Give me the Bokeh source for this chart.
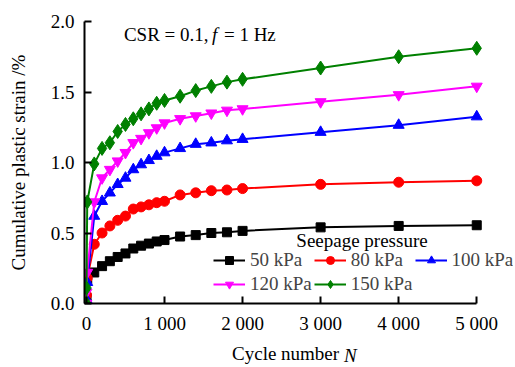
from bokeh.plotting import figure
from bokeh.models import Range1d, FixedTicker, Legend, LegendItem, Label
from bokeh.embed import file_html
from bokeh.resources import INLINE

# ---- data ----
cycles = [0, 1, 10, 100, 200, 300, 400, 500, 600, 700, 800, 900, 1000,
          1200, 1400, 1600, 1800, 2000, 3000, 4000, 5000]
s50 = [0, 0.04, 0.17, 0.22, 0.265, 0.30, 0.33, 0.355, 0.39, 0.41, 0.425, 0.44, 0.45,
       0.475, 0.485, 0.50, 0.505, 0.515, 0.54, 0.55, 0.555]
s80 = [0, 0.06, 0.18, 0.42, 0.50, 0.55, 0.59, 0.62, 0.67, 0.685, 0.70, 0.715, 0.725,
       0.77, 0.785, 0.80, 0.805, 0.815, 0.845, 0.86, 0.87]
s100 = [0, 0.03, 0.15, 0.62, 0.725, 0.785, 0.845, 0.89, 0.95, 0.985, 1.015, 1.045, 1.07,
        1.10, 1.13, 1.14, 1.155, 1.165, 1.215, 1.265, 1.325]
s120 = [0, 0.08, 0.22, 0.72, 0.89, 0.95, 1.01, 1.07, 1.14, 1.17, 1.21, 1.245, 1.28,
        1.31, 1.33, 1.35, 1.37, 1.38, 1.43, 1.48, 1.54]
s150 = [0, 0.11, 0.72, 0.99, 1.10, 1.14, 1.22, 1.27, 1.31, 1.345, 1.38, 1.42, 1.44,
        1.47, 1.51, 1.54, 1.57, 1.59, 1.67, 1.75, 1.81]
series_labels = ["50 kPa", "80 kPa", "100 kPa", "120 kPa", "150 kPa"]
x_ticks = [0, 1000, 2000, 3000, 4000, 5000]
x_tick_labels = ["0", "1 000", "2 000", "3 000", "4 000", "5 000"]
y_ticks = [0.0, 0.5, 1.0, 1.5, 2.0]
y_tick_labels = ["0.0", "0.5", "1.0", "1.5", "2.0"]

FONT = "Liberation Serif"
FS = "19px"

p = figure(width=515, height=367, output_backend="svg", toolbar_location=None,
           x_range=Range1d(-25, 5471), y_range=Range1d(0, 2.0),
           min_border_left=84, min_border_right=2, min_border_top=20,
           min_border_bottom=64)
p.outline_line_color = None
p.xgrid.visible = False
p.ygrid.visible = False
p.background_fill_color = "white"
p.border_fill_color = "white"

for ax in (p.xaxis[0], p.yaxis[0]):
    ax.axis_line_width = 2
    ax.axis_line_color = "black"
    ax.major_tick_line_width = 2
    ax.major_tick_in = 7
    ax.major_tick_out = 0
    ax.minor_tick_line_color = None
    ax.major_label_text_font = FONT
    ax.major_label_text_font_size = FS
    ax.major_label_text_color = "black"
    ax.axis_label_text_font = FONT
    ax.axis_label_text_font_size = FS
    ax.axis_label_text_font_style = "normal"
    ax.axis_label_text_color = "black"

p.xaxis.bounds = (-25, 5000)
p.xaxis.ticker = FixedTicker(ticks=x_ticks)
p.xaxis.major_label_overrides = {t: l for t, l in zip(x_ticks, x_tick_labels)}
p.xaxis.major_label_standoff = 9
p.yaxis.ticker = FixedTicker(ticks=y_ticks)
p.yaxis.major_label_overrides = {t: l for t, l in zip(y_ticks, y_tick_labels)}
p.yaxis.major_label_standoff = 10
p.yaxis.axis_label = "Cumulative plastic strain /%"
p.yaxis.axis_label_standoff = 19

colors = ["black", "red", "blue", "magenta", "green"]
markers = ["square", "circle", "triangle", "inverted_triangle", "diamond"]
sizes = [9, 10, 11, 11, 14]
data = [s50, s80, s100, s120, s150]

items = []
for lab, ys, c, m, sz in zip(series_labels, data, colors, markers, sizes):
    lr = p.line(cycles, ys, line_color=c, line_width=2)
    sr = p.scatter(cycles, ys, marker=m, size=sz, fill_color=c, line_color=c)
    items.append(LegendItem(label=lab, renderers=[lr, sr]))

leg = Legend(items=items, orientation="horizontal", ncols=3,
             location=(129, 8), background_fill_alpha=0, border_line_color=None,
             label_text_font=FONT, label_text_font_size=FS, label_standoff=5,
             glyph_width=32, glyph_height=20, label_height=20, spacing=2,
             padding=0, margin=0)
p.add_layout(leg, "center")

lab_kw = dict(text_font=FONT, text_font_size=FS, text_color="black",
              text_baseline="middle")
# legend title
p.add_layout(Label(x=3530, y=0.445, text="Seepage pressure", text_align="center", **lab_kw))
# annotation
p.add_layout(Label(x=480, y=1.905, text="CSR = 0.1,", **lab_kw))
p.add_layout(Label(x=480, y=1.905, x_offset=88, text="f", text_font_style="italic", **lab_kw))
p.add_layout(Label(x=480, y=1.905, x_offset=100, text="= 1 Hz", **lab_kw))
# x axis title: plain part below the axis, italic N placed from the top panel
p.add_layout(Label(x=1865, y=4, y_units="screen", text="Cycle number", **lab_kw), "below")
p.add_layout(Label(x=1865, y=-334, y_units="screen", x_offset=112, text="N",
                   text_font_style="italic", **lab_kw), "above")

open("out.html", "w").write(file_html(p, INLINE))
